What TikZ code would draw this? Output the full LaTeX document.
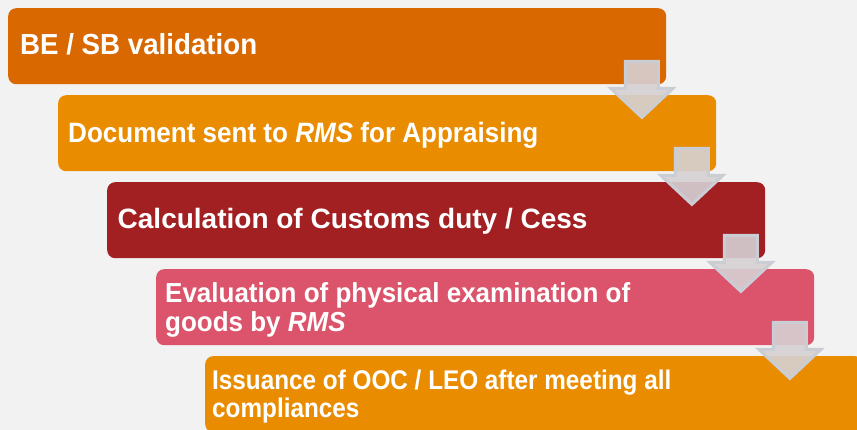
\documentclass[tikz,border=0pt]{standalone}
\usepackage{fontspec}
\setmainfont{Liberation Sans}
\newfontfamily\fA[FakeStretch=0.955]{Liberation Sans}
\newfontfamily\fB[FakeStretch=0.93]{Liberation Sans}
\newfontfamily\fC{Liberation Sans}
\newfontfamily\fD[FakeStretch=0.945]{Liberation Sans}
\newfontfamily\fE[FakeStretch=0.9]{Liberation Sans}
\usetikzlibrary{calc}
\definecolor{bgc}{HTML}{F2F2F2}
\definecolor{cA}{HTML}{D96800}
\definecolor{cB}{HTML}{EA8C00}
\definecolor{cC}{HTML}{A21F22}
\definecolor{cD}{HTML}{DB546B}
\definecolor{arrfill}{HTML}{D6D1D4}
\definecolor{arrline}{HTML}{CBCDD5}
\tikzset{
  stepbox/.style={rectangle, rounded corners=8pt, anchor=north west,
    minimum width=658pt, minimum height=76pt, inner sep=0pt},
  steptext/.style={anchor=north west, inner sep=0pt, align=left, text=white},
  arrowstyle/.style={fill=arrfill, fill opacity=0.9, draw=arrline, line width=3pt, line join=miter},
  blockarrow/.pic={\path[arrowstyle] (-16.5,0) -- (16.5,0) -- (16.5,27) -- (31,27) -- (0,56) -- (-31,27) -- (-16.5,27) -- cycle;}
}
\begin{document}
\begin{tikzpicture}[x=1pt,y=-1pt]
\useasboundingbox (0,0) rectangle (857,430);
\fill[bgc] (0,0) rectangle (857,430);
\clip (0,0) rectangle (857,430);
\node[stepbox, fill=cA] (b1) at (8,8) {};
\node[stepbox, fill=cB] (b2) at (58,95) {};
\node[stepbox, fill=cC] (b3) at (107,182) {};
\node[stepbox, fill=cD] (b4) at (156,269) {};
\node[stepbox, fill=cB] (b5) at (205,356) {};
\node[steptext, text height=20.8pt, font=\fA\fontsize{29}{29}\selectfont\bfseries]
  (t1) at ($(b1.north west)+(12,25.3)$) {BE / SB validation};
\node[steptext, text height=20pt, font=\fB\fontsize{28}{28}\selectfont\bfseries]
  (t2) at ($(b2.north west)+(10,27)$) {Document sent to \textit{RMS} for Appraising};
\node[steptext, text height=20pt, font=\fC\fontsize{28}{28}\selectfont\bfseries]
  (t3) at ($(b3.north west)+(10.5,26)$) {Calculation of Customs duty / Cess};
\node[steptext, text height=48.7pt, font=\fD\fontsize{27.5}{29}\selectfont\bfseries]
  (t4) at ($(b4.north west)+(9,14)$) {Evaluation of physical examination of\\goods by \textit{RMS}};
\node[steptext, text height=47.3pt, font=\fE\fontsize{27}{28}\selectfont\bfseries]
  (t5) at ($(b5.north west)+(7,14)$) {Issuance of OOC / LEO after meeting all\\compliances};
\coordinate (a1) at ($(b1.south east)+(-24.5,-23)$);
\coordinate (a2) at ($(b2.south east)+(-24.5,-23)$);
\coordinate (a3) at ($(b3.south east)+(-24.5,-23)$);
\coordinate (a4) at ($(b4.south east)+(-24.5,-23)$);
\pic (p1) at (a1) {blockarrow};
\pic (p2) at (a2) {blockarrow};
\pic (p3) at (a3) {blockarrow};
\pic (p4) at (a4) {blockarrow};
\end{tikzpicture}
\end{document}
